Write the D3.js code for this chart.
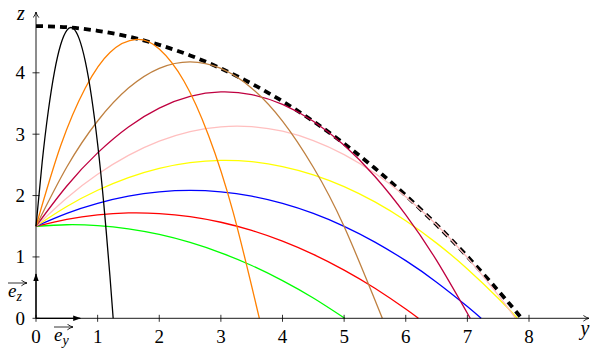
<!DOCTYPE html>
<html>
<head>
<meta charset="utf-8">
<script src="https://cdn.jsdelivr.net/npm/d3@7"></script>
<style>
  body { margin: 0; background: #fff; }
  svg { display: block; }
  text { font-family: "Liberation Serif", "DejaVu Serif", "Times New Roman", serif; }
</style>
</head>
<body>
<script>
// points, [y, z]
const envelope = [[0,4.762],[0.5,4.743],[1,4.685],[1.5,4.59],[2,4.455],[2.5,4.283],[3,4.072],[3.5,3.823],[4,3.536],[4.5,3.21],[5,2.846],[5.5,2.444],[6,2.003],[6.5,1.524],[7,1.007],[7.5,0.451],[7.88,0]];
const traj85 = [[0,1.5],[0.1,2.542],[0.2,3.382],[0.3,4.021],[0.4,4.458],[0.5,4.693],[0.6,4.726],[0.7,4.557],[0.8,4.186],[0.9,3.614],[1,2.84],[1.1,1.864],[1.2,0.686],[1.252,0]];
const traj75 = [[0,1.5],[0.4,2.81],[0.8,3.753],[1.2,4.331],[1.63,4.543],[2,4.388],[2.4,3.867],[2.8,2.98],[3.2,1.726],[3.624,0]];
const traj65 = [[0,1.5],[0.5,2.465],[1,3.215],[1.5,3.751],[2,4.073],[2.5,4.179],[3,4.072],[3.5,3.75],[4,3.212],[4.5,2.461],[5,1.495],[5.62,0]];
const traj55 = [[0,1.5],[0.5,2.156],[1,2.695],[1.5,3.118],[2,3.425],[2.5,3.615],[3,3.688],[3.5,3.645],[4,3.486],[4.5,3.21],[5,2.818],[5.5,2.31],[6,1.685],[6.5,0.943],[7.046,0]];
const traj45 = [[0,1.5],[0.5,1.962],[1,2.347],[1.5,2.655],[2,2.887],[2.5,3.042],[3,3.12],[3.5,3.122],[4,3.048],[4.5,2.896],[5,2.668],[5.5,2.363],[6,1.982],[6.5,1.524],[7,0.989],[7.5,0.378],[7.782,0]];
const traj35 = [[0,1.5],[0.5,1.822],[1,2.086],[1.5,2.293],[2,2.444],[2.5,2.537],[3,2.573],[3.5,2.552],[4,2.473],[4.5,2.338],[5,2.146],[5.5,1.896],[6,1.589],[6.5,1.225],[7,0.805],[7.5,0.327],[7.811,0]];
const traj25 = [[0,1.5],[0.5,1.71],[1,1.873],[1.5,1.99],[2,2.059],[2.5,2.083],[3,2.059],[3.5,1.989],[4,1.872],[4.5,1.709],[5,1.499],[5.5,1.242],[6,0.939],[6.5,0.589],[7,0.192],[7.223,0]];
const traj15 = [[0,1.5],[0.5,1.613],[1,1.686],[1.5,1.717],[2,1.707],[2.5,1.657],[3,1.565],[3.5,1.432],[4,1.258],[4.5,1.042],[5,0.786],[5.5,0.489],[6,0.151],[6.205,0]];
const traj5 = [[0,1.5],[0.5,1.524],[1,1.51],[1.5,1.457],[2,1.366],[2.5,1.236],[3,1.067],[3.5,0.86],[4,0.614],[4.5,0.33],[5.01,0]];

const trajectories = [traj5, traj15, traj25, traj35, traj45, traj55, traj65, traj75, traj85];
const trajColors = ["#00ff00", "#ff0000", "#0000ff", "#ffff00", "#ffbfbf", "#bf0040", "#bf8040", "#ff8000", "#000000"];

const yTicks = [0, 1, 2, 3, 4, 5, 6, 7, 8];
const zTicks = [0, 1, 2, 3, 4];
const unitLen = 0.72;

const width = 600, height = 356;
const serif = "'Liberation Serif', 'DejaVu Serif', serif";

const x = d3.scaleLinear().domain([0, 8]).range([36, 529]);
const z = d3.scaleLinear().domain([0, 4]).range([318.3, 72.8]);

const svg = d3.select("body").append("svg")
    .attr("width", width)
    .attr("height", height)
    .attr("font-family", serif);

const defs = svg.append("defs");
defs.append("marker")
    .attr("id", "open")
    .attr("viewBox", "0 0 10 10")
    .attr("refX", 9).attr("refY", 5)
    .attr("markerWidth", 7).attr("markerHeight", 7)
    .attr("markerUnits", "userSpaceOnUse")
    .attr("orient", "auto")
    .append("path")
    .attr("d", "M1,1 Q5,4 9,5 Q5,6 1,9")
    .attr("fill", "none")
    .attr("stroke", "#000")
    .attr("stroke-width", 1.2);
defs.append("marker")
    .attr("id", "solid")
    .attr("viewBox", "0 0 10 10")
    .attr("refX", 9).attr("refY", 5)
    .attr("markerWidth", 8).attr("markerHeight", 8)
    .attr("markerUnits", "userSpaceOnUse")
    .attr("orient", "auto")
    .append("path")
    .attr("d", "M0,1.5 L10,5 L0,8.5 Z")
    .attr("fill", "#000");

const line = d3.line()
    .x(d => x(d[0]))
    .y(d => z(d[1]))
    .curve(d3.curveNatural);

// envelope (safety parabola)
svg.append("path")
    .attr("d", line(envelope))
    .attr("fill", "none")
    .attr("stroke", "#000")
    .attr("stroke-width", 3.8)
    .attr("stroke-dasharray", "7 5");

svg.append("g")
    .selectAll("path")
    .data(trajectories)
    .join("path")
    .attr("d", d => line(d))
    .attr("fill", "none")
    .attr("stroke", (d, i) => trajColors[i])
    .attr("stroke-width", 1.3);

// axes
svg.append("line")
    .attr("x1", x(0)).attr("y1", z(0))
    .attr("x2", 589).attr("y2", z(0))
    .attr("stroke", "#000").attr("stroke-width", 0.9)
    .attr("marker-end", "url(#open)");
svg.append("line")
    .attr("x1", x(0)).attr("y1", z(0))
    .attr("x2", x(0)).attr("y2", 12)
    .attr("stroke", "#000").attr("stroke-width", 0.9)
    .attr("marker-end", "url(#open)");

svg.append("g")
    .selectAll("line")
    .data(yTicks)
    .join("line")
    .attr("x1", d => x(d)).attr("x2", d => x(d))
    .attr("y1", z(0) - 3.5).attr("y2", z(0) + 3.5)
    .attr("stroke", "#000").attr("stroke-width", 0.8);
svg.append("g")
    .selectAll("line")
    .data(zTicks)
    .join("line")
    .attr("x1", x(0) - 3.5).attr("x2", x(0) + 3.5)
    .attr("y1", d => z(d)).attr("y2", d => z(d))
    .attr("stroke", "#000").attr("stroke-width", 0.8);

svg.append("g")
    .selectAll("text")
    .data(yTicks)
    .join("text")
    .attr("x", d => x(d))
    .attr("y", 343)
    .attr("text-anchor", "middle")
    .attr("font-family", serif)
    .attr("font-size", 19)
    .text(d => d);
svg.append("g")
    .selectAll("text")
    .data(zTicks)
    .join("text")
    .attr("x", 25)
    .attr("y", d => z(d) + 6.5)
    .attr("text-anchor", "end")
    .attr("font-family", serif)
    .attr("font-size", 19)
    .text(d => d);

svg.append("text")
    .attr("x", 585).attr("y", 335)
    .attr("text-anchor", "middle")
    .attr("font-family", serif)
    .attr("font-size", 20)
    .attr("font-style", "italic")
    .text("y");
svg.append("text")
    .attr("x", 21).attr("y", 20)
    .attr("text-anchor", "middle")
    .attr("font-family", serif)
    .attr("font-size", 20)
    .attr("font-style", "italic")
    .text("z");

// unit vectors
svg.append("line")
    .attr("x1", x(0)).attr("y1", z(0))
    .attr("x2", x(unitLen)).attr("y2", z(0))
    .attr("stroke", "#000").attr("stroke-width", 1.3)
    .attr("marker-end", "url(#solid)");
svg.append("line")
    .attr("x1", x(0)).attr("y1", z(0))
    .attr("x2", x(0)).attr("y2", z(unitLen))
    .attr("stroke", "#000").attr("stroke-width", 1.3)
    .attr("marker-end", "url(#solid)");

function vecLabel(cx, cy, sub) {
    const g = svg.append("g").attr("transform", `translate(${cx},${cy})`);
    const t = g.append("text")
        .attr("font-family", serif)
        .attr("font-size", 19)
        .attr("font-style", "italic");
    t.append("tspan").text("e");
    t.append("tspan")
        .attr("font-size", 14)
        .attr("dy", 4)
        .text(sub);
    g.append("line")
        .attr("x1", 0).attr("y1", -14)
        .attr("x2", 19).attr("y2", -14)
        .attr("stroke", "#000").attr("stroke-width", 0.8)
        .attr("marker-end", "url(#open)");
}
vecLabel(8, 297, "z");
vecLabel(54, 341, "y");
</script>
</body>
</html>
